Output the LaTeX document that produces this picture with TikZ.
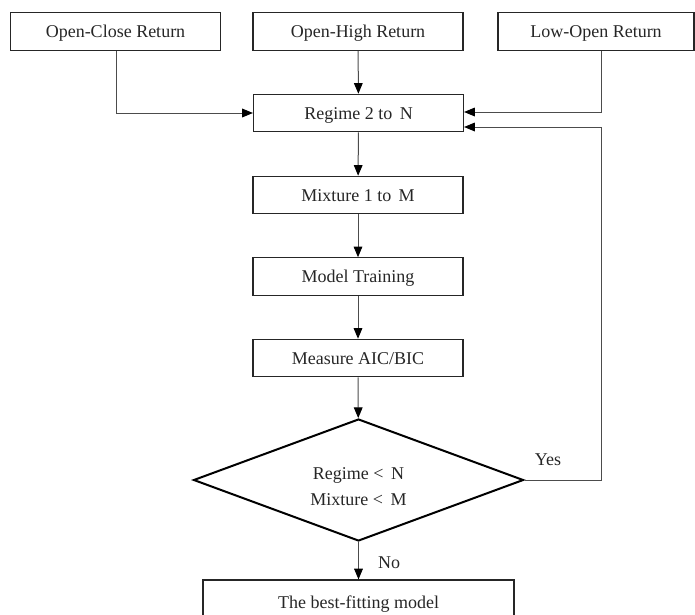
\documentclass[tikz,border=0pt]{standalone}
\usepackage{fontspec}
\setmainfont{Liberation Serif}
\usetikzlibrary{shapes.geometric,arrows.meta}
\begin{document}
\begin{tikzpicture}[x=0.75pt,y=-0.75pt,
  box/.style={draw=black!85,line width=0.9pt,minimum width=157.5pt,minimum height=28pt,inner sep=0pt,
    text height=12pt,text depth=3pt,font=\fontsize{13.5}{16}\selectfont,text=black!85},
  decision/.style={draw=black,line width=1.5pt,shape=diamond,minimum width=247.5pt,minimum height=91.5pt,
    inner sep=0pt},
  dtext/.style={align=center,font=\fontsize{13.5}{19.5}\selectfont,text=black!85,inner sep=0pt},
  conn/.style={draw=black!70,line width=0.75pt,-{Triangle[length=8pt,width=6.5pt]},arrows={[color=black]}},
  lbl/.style={font=\fontsize{13.5}{16}\selectfont,text=black!85}]
\useasboundingbox (0,0) rectangle (695,614);
\clip (0,0) rectangle (695,614);
\node[box] (oc) at (115.5,31.5) {Open-Close Return};
\node[box] (oh) at (358,31.5) {Open-High Return};
\node[box,minimum width=147pt] (lo) at (596,31.5) {Low-Open Return};
\node[box] (regime) at (358.5,113) {Regime 2 to\, N};
\node[box] (mix) at (358,195) {Mixture 1 to\, M};
\node[box] (train) at (358,276.5) {Model Training};
\node[box] (meas) at (358,358) {Measure AIC/BIC};
\node[decision] (dia) at (358.5,480) {};
\node[dtext] (diatext) at (358.5,487) {Regime <\, N\\Mixture <\, M};
\node[box,minimum width=233.25pt,minimum height=33pt] (best) at (358.5,602) {The best-fitting model};
\coordinate (loopc) at (601,480);
\node[lbl] (yes) at (548,460) {Yes};
\node[lbl] (no) at (389,563) {No};
\draw[conn] ([xshift=1pt]oc.south) |- (regime.west);
\draw[conn] (oh) -- (regime);
\draw[conn] ([xshift=3.75pt]lo.south) |- ([yshift=0.75pt]regime.east);
\draw[conn] (dia.east) -- (loopc) |- ([yshift=-10.5pt]regime.east);
\draw[conn] (regime) -- (mix);
\draw[conn] (mix) -- (train);
\draw[conn] (train) -- (meas);
\draw[conn] (meas) -- (dia);
\draw[conn] (dia) -- (best);
\end{tikzpicture}
\end{document}
